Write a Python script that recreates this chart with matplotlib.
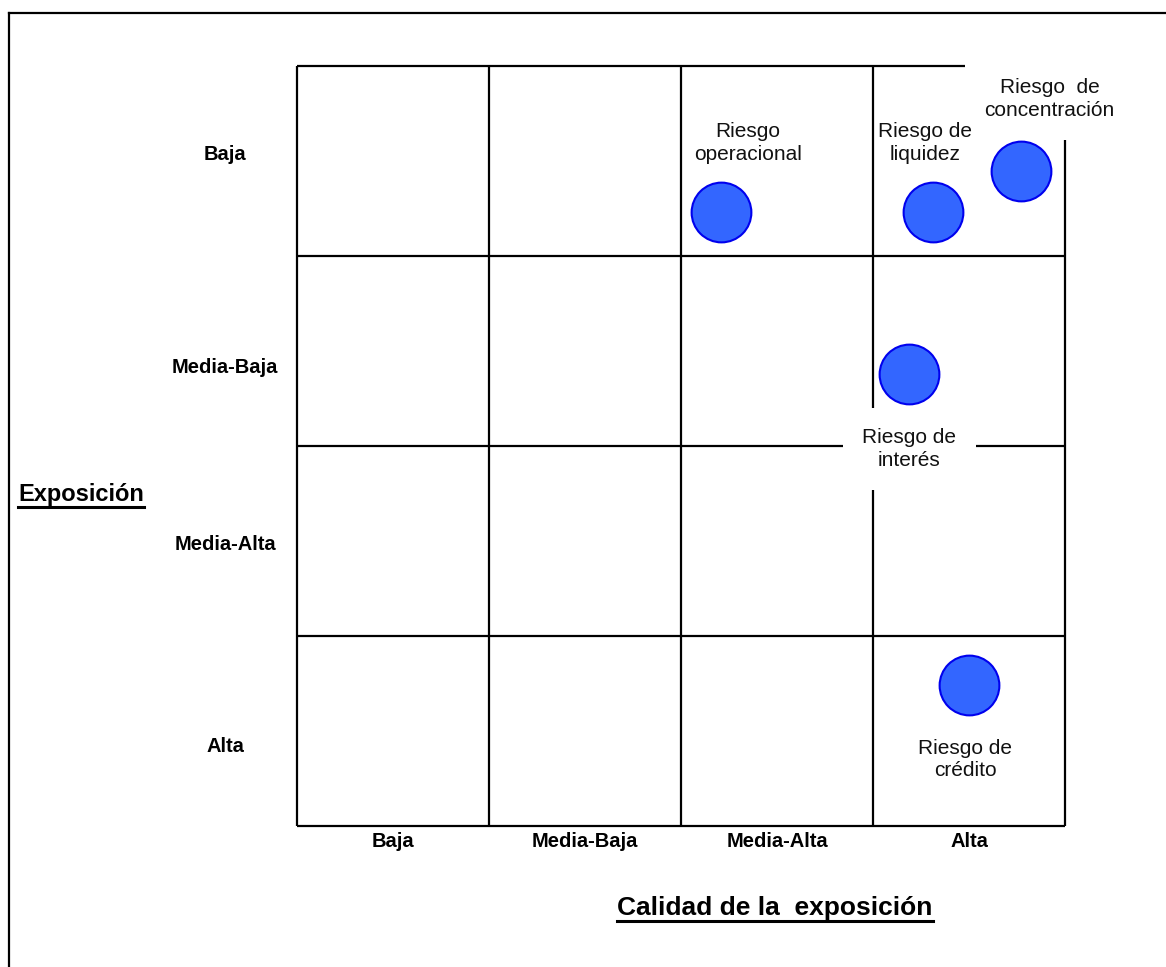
import matplotlib
matplotlib.use("Agg")
import matplotlib.pyplot as plt
from matplotlib.lines import Line2D

plt.rcParams['font.family'] = ['Liberation Sans', 'DejaVu Sans']

# ---- data ----
quality_labels = ['Baja', 'Media-Baja', 'Media-Alta', 'Alta']          # x axis (left -> right)
exposure_labels = ['Alta', 'Media-Alta', 'Media-Baja', 'Baja']         # y axis (bottom -> top)
risk_names = ['Riesgo\noperacional', 'Riesgo de\nliquidez', 'Riesgo  de\nconcentración',
              'Riesgo de\ninterés', 'Riesgo de\ncrédito']
risk_quality = [2.21, 3.31, 3.77, 3.19, 3.50]      # position in grid units (0..4)
risk_exposure = [3.23, 3.23, 3.45, 2.38, 0.74]     # position in grid units (0..4)
x_title = 'Calidad de la  exposición'
y_title = 'Exposición'

# ---- layout (not data) ----
label_dx = [0.14, -0.04, 0.15, 0.0, -0.02]
label_dy = [0.365, 0.365, 0.375, -0.395, -0.39]
label_boxed = [False, False, True, True, False]
row_label_dy = [-0.084, -0.021, -0.089, 0.032]

fig = plt.figure(figsize=(11.66, 9.67), dpi=100)
ax = fig.add_axes([0, 0, 1, 1])
ax.set_xlim(-297 / 192, (1166 - 297) / 192)
ax.set_ylim((826 - 967) / 190, 826 / 190)
ax.axis('off')

n = len(quality_labels)
lw = 1.6
ax.vlines(range(n + 1), 0, n, colors='black', linewidth=lw, zorder=1)
ax.hlines(range(n + 1), 0, n, colors='black', linewidth=lw, zorder=1)

ax.scatter(risk_quality, risk_exposure, s=1850, facecolor='#3366FF',
           edgecolor='#0000EE', linewidth=1.5, zorder=2)

for name, x, y, dx, dy, boxed in zip(risk_names, risk_quality, risk_exposure,
                                       label_dx, label_dy, label_boxed):
    kw = {}
    z = 4
    if boxed:
        kw['bbox'] = dict(boxstyle='square,pad=0.95', facecolor='white', edgecolor='none')
        z = 3
    ax.text(x + dx, y + dy, name, ha='center', va='center', fontsize=15,
            linespacing=1.25, color='#111111', zorder=z, **kw)

for i, lab in enumerate(quality_labels):
    ax.text(i + 0.5, -0.08, lab, ha='center', va='center', fontsize=14.5,
            fontweight='bold')
for i, lab in enumerate(exposure_labels):
    ax.text(-0.375, i + 0.5 + row_label_dy[i], lab, ha='center', va='center',
            fontsize=14.5, fontweight='bold')

t1 = ax.text(2.49, -0.43, x_title, ha='center', va='center', fontsize=19,
             fontweight='bold')
t2 = ax.text(-1.453, 1.747, y_title, ha='left', va='center', fontsize=17,
             fontweight='bold')

# outer frame (left and top edges)
fig.add_artist(Line2D([9 / 1166, 9 / 1166], [0, 1 - 13 / 967], transform=fig.transFigure,
                      color='black', linewidth=1.6))
fig.add_artist(Line2D([9 / 1166, 1], [1 - 13 / 967, 1 - 13 / 967], transform=fig.transFigure,
                      color='black', linewidth=1.6))

# underlines
fig.canvas.draw()
r = fig.canvas.get_renderer()
for t in (t1, t2):
    bb = t.get_window_extent(renderer=r)
    y = (bb.y0 - 1) / fig.bbox.height
    fig.add_artist(Line2D([bb.x0 / fig.bbox.width, bb.x1 / fig.bbox.width], [y, y],
                          transform=fig.transFigure, color='black', linewidth=2.2))

fig.savefig('out.png', dpi=100, facecolor='white')
